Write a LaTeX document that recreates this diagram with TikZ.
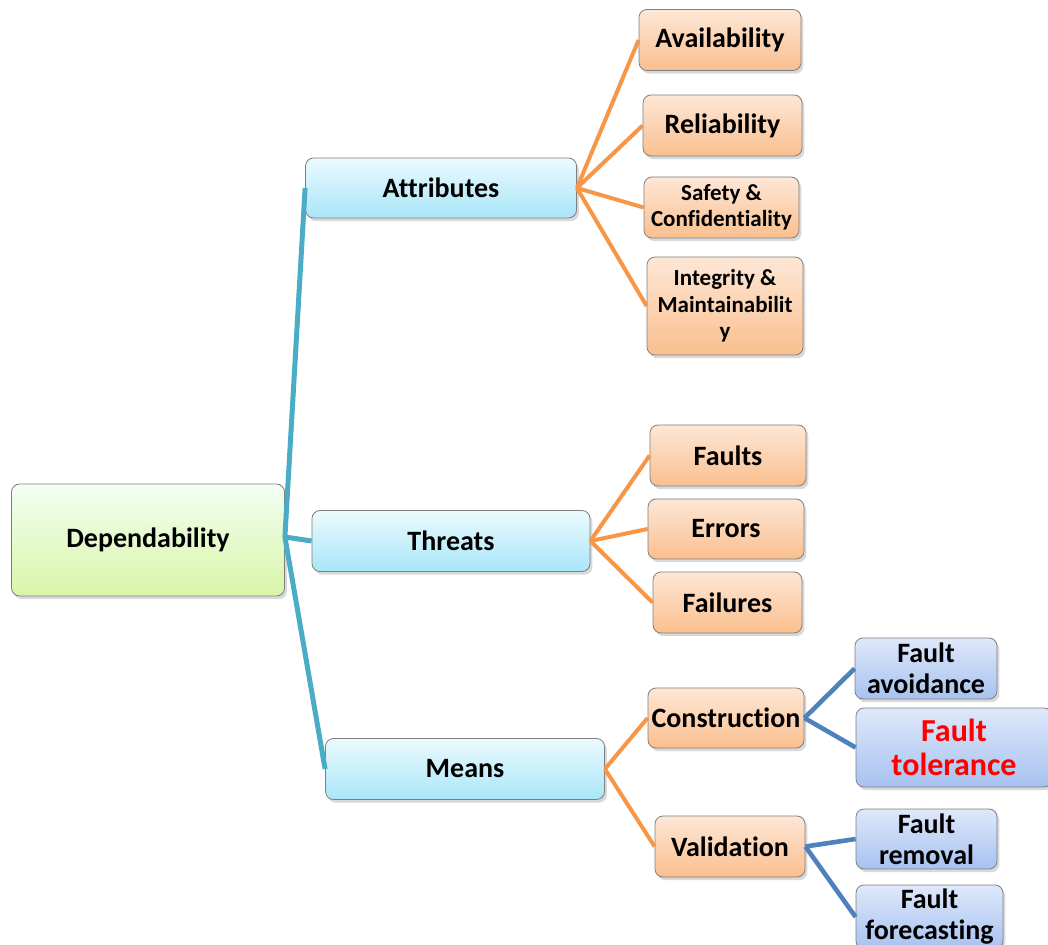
\documentclass[tikz,border=0pt]{standalone}
\usepackage{fontspec}
\setmainfont[RawFeature={-liga,-clig,-calt,-rlig,-dlig}]{Carlito}
\usetikzlibrary{shadows}
\definecolor{tealline}{HTML}{4BACC6}
\definecolor{orangeline}{HTML}{F79646}
\definecolor{blueline}{HTML}{4F81BD}
\definecolor{boxborder}{HTML}{7F7F7F}

\begin{document}
\begin{tikzpicture}[x=0.5pt,y=-0.5pt]
      \tikzset{box/.style={draw=boxborder,rounded corners=4pt,align=center,inner sep=1pt,
          font=\bfseries\fontsize{14}{15.5}\selectfont,
          drop shadow={opacity=0.3,shadow xshift=1.2pt,shadow yshift=-1.6pt}},
        rootbox/.style={box,top color=green!5!white,bottom color={rgb,255:red,216;green,245;blue,168}},
        levelbox/.style={box,top color={rgb,255:red,236;green,250;blue,254},bottom color={rgb,255:red,168;green,230;blue,248}},
        leafbox/.style={box,top color={rgb,255:red,253;green,231;blue,214},bottom color={rgb,255:red,250;green,191;blue,143}},
        subbox/.style={box,top color={rgb,255:red,222;green,232;blue,250},bottom color={rgb,255:red,167;green,194;blue,240}},
        smalltext/.style={font=\bfseries\fontsize{11.5}{13.3}\selectfont},
        teal/.style={tealline,line width=2.5pt},
        orange/.style={orangeline,line width=2pt},
        blue/.style={blueline,line width=2.3pt}}
      \clip (0,0) rectangle (1048,945);
      \useasboundingbox (0,0) rectangle (1048,945);
      % root and main branches
      \node[rootbox,minimum width=136.5pt,minimum height=56pt] (dep) at (148,540) {Dependability};
\node[levelbox,minimum width=135.5pt,minimum height=30pt] (attr) at (441,188) {Attributes};
\node[levelbox,minimum width=139pt,minimum height=30.5pt] (thr) at (451,541) {Threats};
\node[levelbox,minimum width=139.5pt,minimum height=30.5pt] (means) at (465,769) {Means};
      % attributes
\node[leafbox,minimum width=81pt,minimum height=30.5pt] (avail) at (720,40) {Availability};
\node[leafbox,minimum width=79.5pt,minimum height=30.5pt] (rel) at (722.5,125.5) {Reliability};
\node[leafbox,smalltext,minimum width=77.5pt,minimum height=30.5pt] (safe) at (721.5,207.5) {Safety \&\\Confidentiality};
\node[leafbox,smalltext,minimum width=78pt,minimum height=49pt] (integ) at (725,306) {Integrity \&\\Maintainabilit\\y};
      % threats
\node[leafbox,minimum width=78pt,minimum height=30.5pt] (faults) at (728,455.5) {Faults};
\node[leafbox,minimum width=78pt,minimum height=30pt] (errors) at (726,529) {Errors};
\node[leafbox,minimum width=74.5pt,minimum height=30.5pt] (fail) at (727.5,602.5) {Failures};
      % means
\node[leafbox,minimum width=78pt,minimum height=30pt] (constr) at (726,718) {Construction};
\node[leafbox,minimum width=75pt,minimum height=30.5pt] (valid) at (730,846.5) {Validation};
\node[subbox,minimum width=71pt,minimum height=30.5pt] (avoid) at (926,668.5) {Fault\\avoidance};
\node[subbox,minimum width=98pt,minimum height=39.5pt,text=red,font=\bfseries\fontsize{16}{17}\selectfont] (toler) at (954,747.5) {Fault\\tolerance};
\node[subbox,minimum width=70.5pt,minimum height=30pt] (remov) at (926.5,839) {Fault\\removal};
\node[subbox,minimum width=73.5pt,minimum height=32pt] (fore) at (929.5,917) {Fault\\forecasting};

\foreach \c in {attr,thr,means}
		\draw[teal] ([yshift=1.5pt]dep.east) -- (\c.west);
\foreach \c in {avail,rel,safe,integ}
		\draw[orange] (attr.east) -- (\c.west);
\foreach \c in {faults,errors,fail}
		\draw[orange] (thr.east) -- (\c.west);
\foreach \c in {constr,valid}
		\draw[orange] (means.east) -- (\c.west);
\foreach \c in {avoid,toler}
		\draw[blue] (constr.east) -- (\c.west);
\foreach \c in {remov,fore}
		\draw[blue] (valid.east) -- (\c.west);
   
    \end{tikzpicture}
\end{document}
